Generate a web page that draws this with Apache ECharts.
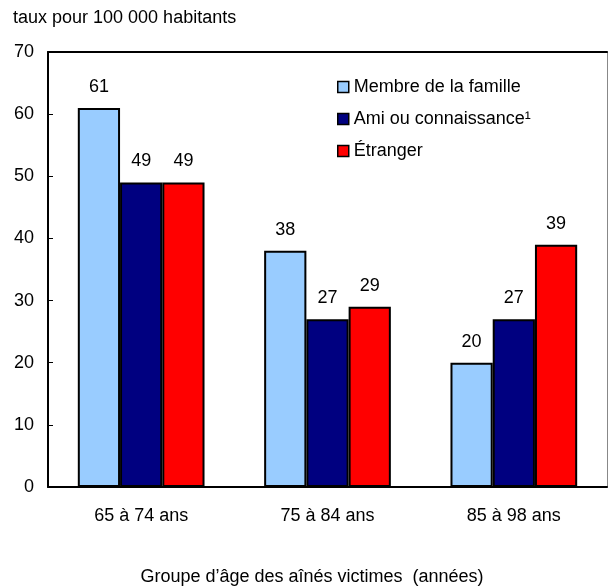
<!DOCTYPE html>
<html>
<head>
<meta charset="utf-8">
<script src="https://cdn.jsdelivr.net/npm/echarts@6/dist/echarts.min.js"></script>
<style>html,body{margin:0;padding:0;background:#fff}#c{width:608px;height:587px}</style>
</head>
<body>
<div id="c"></div>
<script>
const categories = ["65 à 74 ans", "75 à 84 ans", "85 à 98 ans"];
const seriesNames = ["Membre de la famille", "Ami ou connaissance¹", "Étranger"];
const famille = [61, 38, 20];
const ami = [49, 27, 27];
const etranger = [49, 29, 39];
const yTicks = [0, 10, 20, 30, 40, 50, 60, 70];
const yTitle = "taux pour 100 000 habitants";
const xTitle = "Groupe d’âge des aînés victimes  (années)";

const colors = ["#99CCFF", "#000080", "#FF0000"];
const FONT = "Liberation Sans, Arial, Helvetica, sans-serif";
const FS = 18;

const chart = echarts.init(document.getElementById('c'), null, {renderer: 'canvas'});
const values = [famille, ami, etranger];
chart.setOption({
  animation: false,
  backgroundColor: '#fff',
  textStyle: {fontFamily: FONT},
  title: {
    text: yTitle, left: 13, top: 9, padding: 0,
    textStyle: {fontSize: FS, fontWeight: 'normal', color: '#000', fontFamily: FONT}
  },
  legend: {
    orient: 'vertical', left: 337, top: 78, itemGap: 14, padding: 0,
    itemWidth: 11, itemHeight: 11, icon: 'rect',
    itemStyle: {borderColor: '#000', borderWidth: 1.5},
    textStyle: {fontSize: FS, color: '#000', fontFamily: FONT},
    data: seriesNames
  },
  grid: {left: 48, right: 1, top: 52, bottom: 100, containLabel: false, outerBoundsMode: 'none'},
  xAxis: [{
    type: 'category', data: categories,
    axisLine: {onZero: false, lineStyle: {color: '#000', width: 2}},
    axisTick: {show: false},
    axisLabel: {fontSize: FS, color: '#000', margin: 20, fontFamily: FONT},
    name: xTitle, nameLocation: 'middle', nameGap: 81,
    nameTextStyle: {fontSize: FS, color: '#000', fontFamily: FONT, padding: [0, 31, 0, 0]}
  }, {
    type: 'category', data: categories, position: 'top',
    axisLine: {onZero: false, lineStyle: {color: '#000', width: 2}},
    axisTick: {show: false}, axisLabel: {show: false}
  }],
  yAxis: [{
    type: 'value', min: 0, max: 70, interval: 10,
    axisLine: {show: true, onZero: false, lineStyle: {color: '#000', width: 2}},
    axisTick: {show: true, inside: true, length: 5, lineStyle: {color: '#000', width: 1}},
    axisLabel: {fontSize: FS, color: '#000', margin: 14, fontFamily: FONT,
      formatter: v => yTicks.includes(v) ? String(v) : ''},
    splitLine: {show: false}
  }, {
    type: 'value', min: 0, max: 70, interval: 10, position: 'right',
    axisLine: {show: true, onZero: false, lineStyle: {color: '#888', width: 1}},
    axisTick: {show: false}, axisLabel: {show: false}, splitLine: {show: false}
  }],
  series: seriesNames.map((n, i) => ({
    name: n, type: 'bar', data: values[i],
    barGap: '0%', barCategoryGap: '32%',
    itemStyle: {color: colors[i], borderColor: '#000', borderWidth: 2},
    label: {show: true, position: 'top', distance: 12, fontSize: FS, color: '#000', fontFamily: FONT}
  }))
});
</script>
</body>
</html>
